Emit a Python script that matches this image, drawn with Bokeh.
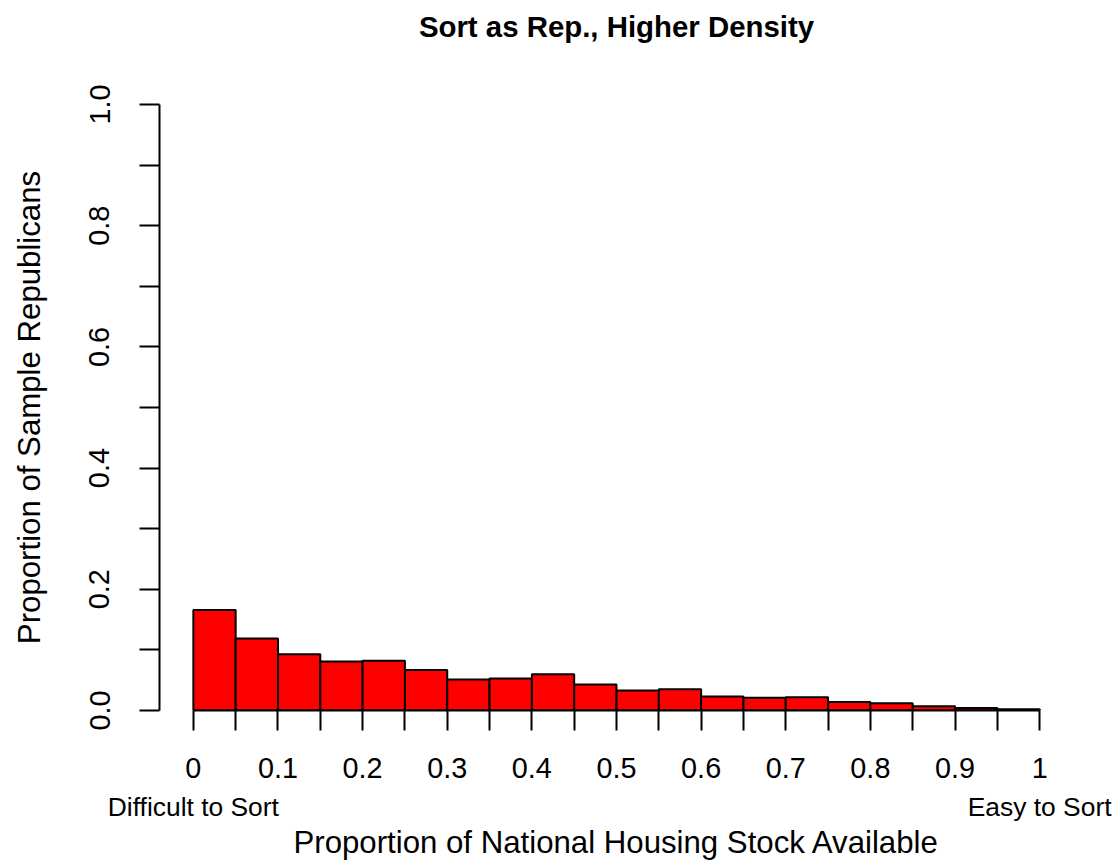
from bokeh.plotting import figure
from bokeh.models import Range1d, FixedTicker, LinearAxis, ColumnDataSource
from bokeh.embed import file_html
from bokeh.resources import INLINE

# ---- data ----
bin_left = [0.00, 0.05, 0.10, 0.15, 0.20, 0.25, 0.30, 0.35, 0.40, 0.45,
            0.50, 0.55, 0.60, 0.65, 0.70, 0.75, 0.80, 0.85, 0.90, 0.95]
bin_right = [0.05, 0.10, 0.15, 0.20, 0.25, 0.30, 0.35, 0.40, 0.45, 0.50,
             0.55, 0.60, 0.65, 0.70, 0.75, 0.80, 0.85, 0.90, 0.95, 1.00]
proportion = [0.166, 0.119, 0.093, 0.081, 0.082, 0.067, 0.051, 0.053, 0.060, 0.043,
              0.033, 0.035, 0.023, 0.021, 0.022, 0.014, 0.012, 0.007, 0.004, 0.002]
x_ticks = [0.0, 0.1, 0.2, 0.3, 0.4, 0.5, 0.6, 0.7, 0.8, 0.9, 1.0]
x_minor = [0.05, 0.15, 0.25, 0.35, 0.45, 0.55, 0.65, 0.75, 0.85, 0.95]
x_labels = ["0", "0.1", "0.2", "0.3", "0.4", "0.5", "0.6", "0.7", "0.8", "0.9", "1"]
y_ticks = [0.0, 0.2, 0.4, 0.6, 0.8, 1.0]
y_minor = [0.1, 0.3, 0.5, 0.7, 0.9]
y_labels = ["0.0", "0.2", "0.4", "0.6", "0.8", "1.0"]
end_positions = [0.0, 1.0]
end_labels = ["Difficult to Sort", "Easy to Sort"]
title_text = "Sort as Rep., Higher Density"

FONT = "Liberation Sans"

p = figure(frame_width=914, frame_height=606,
           x_range=Range1d(-0.04, 1.04), y_range=Range1d(0, 1),
           output_backend="svg", toolbar_location=None,
           min_border_left=159, min_border_right=39, min_border_top=104, min_border_bottom=0)
p.background_fill_color = "white"
p.border_fill_color = "white"
p.outline_line_color = None
p.xgrid.grid_line_color = None
p.ygrid.grid_line_color = None

xa = p.below[0]
ya = p.left[0]

src = ColumnDataSource(dict(left=bin_left, right=bin_right, top=proportion,
                            bottom=[0.0] * len(proportion)))
p.quad(left="left", right="right", top="top", bottom="bottom", source=src,
       fill_color="#ff0000", line_color="black", line_width=2)

# main x axis
xa.ticker = FixedTicker(ticks=x_ticks, minor_ticks=x_minor)
xa.major_label_overrides = {t: l for t, l in zip(x_ticks, x_labels)}
xa.bounds = (0, 1)
xa.axis_line_width = 2
xa.major_tick_line_width = 2
xa.minor_tick_line_width = 2
xa.major_tick_out = 20
xa.major_tick_in = 0
xa.minor_tick_out = 20
xa.minor_tick_in = 0
xa.minor_tick_line_color = "black"
xa.major_label_text_font = FONT
xa.major_label_text_font_size = "28.8px"
xa.major_label_text_color = "black"
xa.major_label_standoff = 27

# y axis
ya.ticker = FixedTicker(ticks=y_ticks, minor_ticks=y_minor)
ya.major_label_overrides = {t: l for t, l in zip(y_ticks, y_labels)}
ya.bounds = (0, 1)
ya.axis_line_width = 2
ya.major_tick_line_width = 2
ya.minor_tick_line_width = 2
ya.major_tick_out = 20
ya.major_tick_in = 0
ya.minor_tick_out = 20
ya.minor_tick_in = 0
ya.minor_tick_line_color = "black"
ya.major_label_orientation = "vertical"
ya.major_label_text_font = FONT
ya.major_label_text_font_size = "28.8px"
ya.major_label_text_color = "black"
ya.major_label_standoff = 30
ya.axis_label = "Proportion of Sample Republicans"
ya.axis_label_text_font = FONT
ya.axis_label_text_font_size = "31.2px"
ya.axis_label_text_font_style = "normal"
ya.axis_label_text_color = "black"
ya.axis_label_standoff = 40

# secondary axis with end annotations and axis label
ea = LinearAxis(ticker=FixedTicker(ticks=end_positions))
ea.major_label_overrides = {t: l for t, l in zip(end_positions, end_labels)}
ea.axis_line_color = None
ea.major_tick_line_color = None
ea.minor_tick_line_color = None
ea.major_tick_out = 0
ea.major_tick_in = 0
ea.major_label_standoff = 11
ea.major_label_text_font = FONT
ea.major_label_text_font_size = "26.4px"
ea.major_label_text_color = "black"
ea.axis_label = "Proportion of National Housing Stock Available"
ea.axis_label_text_font = FONT
ea.axis_label_text_font_size = "31.2px"
ea.axis_label_text_font_style = "normal"
ea.axis_label_text_color = "black"
ea.axis_label_standoff = 0
p.add_layout(ea, "below")

# title: an empty axis above the plot whose axis label carries the title text
ta = LinearAxis(ticker=FixedTicker(ticks=[]))
ta.axis_line_color = None
ta.major_tick_line_color = None
ta.minor_tick_line_color = None
ta.major_tick_out = 0
ta.major_tick_in = 0
ta.minor_tick_out = 0
ta.minor_tick_in = 0
ta.major_label_standoff = 0
ta.axis_label = title_text
ta.axis_label_text_font = FONT
ta.axis_label_text_font_size = "29.4px"
ta.axis_label_text_font_style = "bold"
ta.axis_label_text_color = "black"
ta.axis_label_standoff = 62
p.add_layout(ta, "above")

open("out.html", "w").write(file_html(p, INLINE))
